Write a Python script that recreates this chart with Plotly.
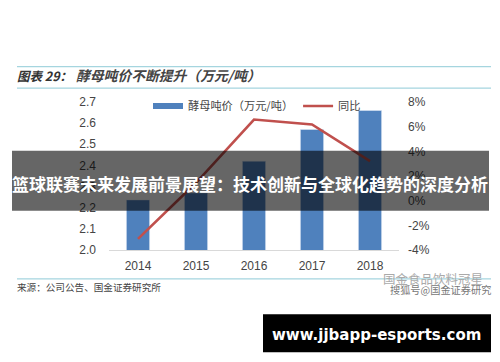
import plotly.graph_objects as go

categories = ["2014", "2015", "2016", "2017", "2018"]
price = [2.237, 2.27, 2.42, 2.57, 2.66]
yoy = [-3.1, 1.45, 6.58, 6.18, 3.2]
left_ticks = [2.0, 2.1, 2.2, 2.3, 2.4, 2.5, 2.6, 2.7]
right_ticks = [-4, -2, 0, 2, 4, 6, 8]
right_labels = ["-4%", "-2%", "0%", "2%", "4%", "6%", "8%"]

W, H = 500, 362
L, R, T, B = 109, 399, 102, 250.5
px = lambda x: (x - L) / (R - L)
py = lambda y: (B - y) / (B - T)

fig = go.Figure()
fig.add_bar(x=categories, y=price, name="酵母吨价（万元/吨）", marker_color="#4F81BD", yaxis="y", width=0.4,
            showlegend=False)
fig.add_scatter(x=[None], y=[None], name="酵母吨价（万元/吨）", mode="lines", yaxis="y",
                line=dict(color="#4F81BD", width=6))
fig.add_scatter(x=categories, y=yoy, name="同比", mode="lines", yaxis="y2",
                line=dict(color="#C0504D", width=2.6))

shapes = []
for y in (66.5, 88, 279.5):
    shapes.append(dict(type="line", xref="paper", yref="paper", x0=px(17), x1=px(491), y0=py(y), y1=py(y),
                       line=dict(color="#A5D5DF", width=1.2), layer="above"))
shapes.append(dict(type="rect", xref="paper", yref="paper", x0=px(12), x1=px(489), y0=py(151), y1=py(211),
                   fillcolor="rgba(0,0,0,0.6)", line_width=0, layer="above"))
shapes.append(dict(type="rect", xref="paper", yref="paper", x0=px(263), x1=px(491), y0=py(315), y1=py(353),
                   fillcolor="#000000", line_width=0, layer="above"))

def note(x, y, text, size, color, anchor="left", family="Noto Sans CJK SC"):
    return dict(xref="paper", yref="paper", x=px(x), y=py(y), text=text, showarrow=False,
                xanchor=anchor, yanchor="middle", font=dict(size=size, color=color, family=family), borderpad=0,
                borderwidth=0)

annotations = [
    note(17, 75, "<b><i>图表 29：</i></b>", 12.5, "#333333"),
    note(76, 75, "<b><i>酵母吨价不断提升（万元/吨）</i></b>", 13.8, "#444444"),
    note(17, 287.5, "来源：公司公告、国金证券研究所", 9.6, "#444444"),
    note(483, 279, "国金食品饮料冠星", 12.5, "#AAAAAA", "right"),
    note(491, 290, "搜狐号@国金证券研究", 10.2, "#777777", "right"),
    note(250, 184, "<b>篮球联赛未来发展前景展望：技术创新与全球化趋势的深度分析</b>", 17, "#FFFFFF", "center"),
    note(376, 336, "<b>www.jjbapp-esports.com</b>", 15, "#FFFFFF", "center", "DejaVu Sans"),
]

fig.update_layout(
    width=W, height=H, autosize=False,
    margin=dict(l=L, r=W - R, t=T, b=H - B, pad=0),
    paper_bgcolor="white", plot_bgcolor="white",
    font=dict(family="Liberation Sans", size=12, color="#444444"),
    bargap=0.6,
    xaxis=dict(type="category", showgrid=False, showline=True, linecolor="#D9D9D9", ticks="",
               tickfont=dict(size=12, color="#444444"), ticklabelstandoff=5),
    yaxis=dict(range=[2.0, 2.7], tickvals=left_ticks, tickformat=".1f", showgrid=False, zeroline=False,
               showline=False, ticks="", ticklabelstandoff=12),
    yaxis2=dict(range=[-4, 8], tickmode="array", tickvals=right_ticks, ticktext=right_labels,
                overlaying="y", side="right",
                showgrid=False, zeroline=False, showline=False, ticks="", ticklabelstandoff=8),
    legend=dict(orientation="h", xanchor="left", yanchor="middle", x=px(148), y=py(106),
                bgcolor="rgba(0,0,0,0)", font=dict(size=11.2, family="Noto Sans CJK SC", color="#444444"),
                itemwidth=30, traceorder="normal"),
    shapes=shapes, annotations=annotations,
)

fig.write_html("out.html", post_script="document.body.style.margin='0';",
               config=dict(displayModeBar=False))
